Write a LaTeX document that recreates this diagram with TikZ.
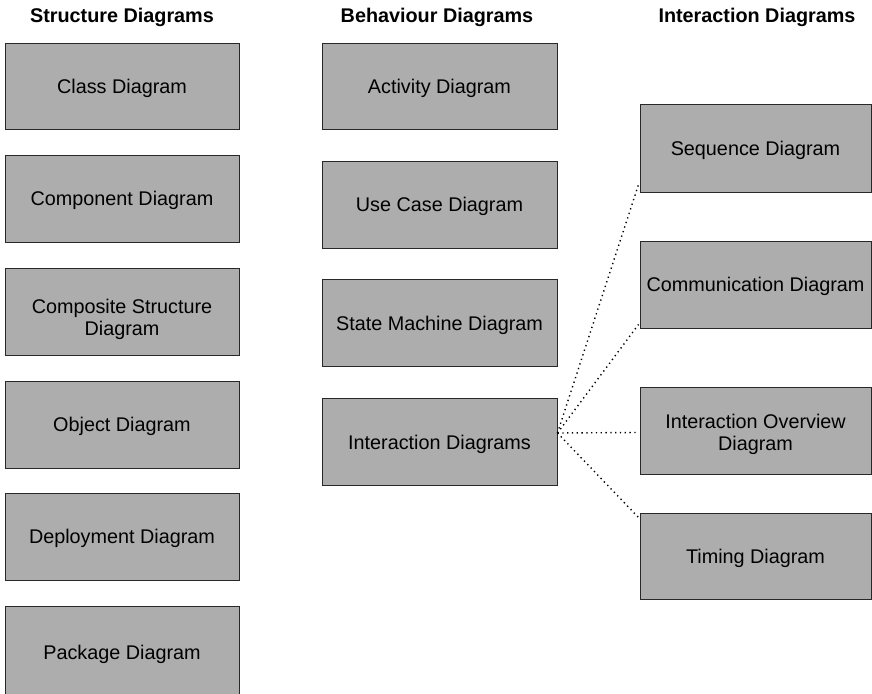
\documentclass[tikz,border=0pt]{standalone}
\usepackage{fontspec}
\setmainfont{Liberation Sans}
\usetikzlibrary{calc}
\definecolor{boxgray}{RGB}{173,173,173}
\definecolor{edgegray}{RGB}{40,40,40}
\begin{document}
\begin{tikzpicture}[x=1pt,y=-1pt,
  diag/.style={draw=edgegray, line width=0.9pt, fill=boxgray, inner sep=0pt,
    align=center, font=\fontsize{19.8}{22}\selectfont,
    text height=14pt, text depth=0pt},
  colA/.style={diag, minimum width=234pt, minimum height=87pt},
  colB/.style={diag, minimum width=235pt, minimum height=87pt},
  colC/.style={diag, minimum width=231pt, minimum height=87pt},
  hdr/.style={anchor=base, inner sep=0pt, font=\bfseries\fontsize{19.8}{23}\selectfont},
  link/.style={draw=black, line width=1.4pt, dash pattern=on 1.3pt off 3.5pt}]
\useasboundingbox (0,0) rectangle (872,693);

% headers
\node[hdr] (h1) at (122,23) {Structure Diagrams};
\node[hdr] (h2) at (437,23) {Behaviour Diagrams};
\node[hdr] (h3) at (757,23) {Interaction Diagrams};

% structure column
\node[colA, minimum height=86pt] (class) at (122,86) {Class Diagram};
\node[colA] (comp) at (122,198.5) {Component Diagram};
\node[colA, text height=47pt, text depth=0pt] (compo) at (122,311.5) {Composite Structure\\Diagram};
\node[colA] (obj) at (122,424.5) {Object Diagram};
\node[colA] (dep) at (122,536.5) {Deployment Diagram};
\node[colA, minimum height=92pt] (pack) at (122,652) {Package Diagram};

% behaviour column
\node[colB, minimum height=86pt] (act) at (439.5,86) {Activity Diagram};
\node[colB] (use) at (439.5,204.5) {Use Case Diagram};
\node[colB] (state) at (439.5,323) {State Machine Diagram};
\node[colB] (inter) at (439.5,442) {Interaction Diagrams};

% interaction column
\node[colC, minimum height=88pt] (seq) at (755.5,148) {Sequence Diagram};
\node[colC] (comm) at (755.5,284.5) {Communication Diagram};
\node[colC, text height=40pt, text depth=0pt] (over) at (755.5,430.5) {Interaction Overview\\Diagram};
\node[colC, minimum height=86pt] (tim) at (755.5,556) {Timing Diagram};

% connectors
\coordinate (hub) at ($(inter.east)+(0,9pt)$);
\coordinate (eseq) at ($(seq.south west)+(-1pt,8pt)$);
\coordinate (ecomm) at ($(comm.south west)+(-1pt,4pt)$);
\coordinate (eover) at ($(over.west)+(-3pt,-2pt)$);
\coordinate (etim) at ($(tim.north west)+(-1pt,-5pt)$);
\draw[link] (hub) -- (eseq);
\draw[link] (hub) -- (ecomm);
\draw[link] (hub) -- (eover);
\draw[link] (hub) -- (etim);
\end{tikzpicture}
\end{document}
